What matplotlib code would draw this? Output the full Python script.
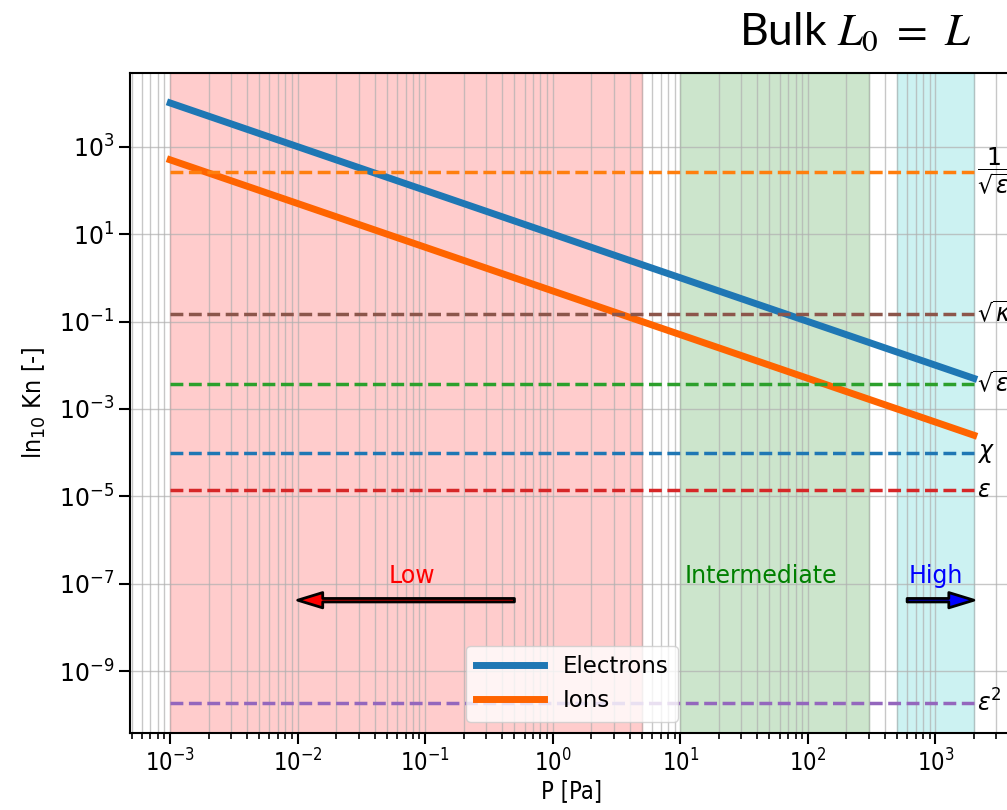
import matplotlib
matplotlib.use("Agg")
import matplotlib.pyplot as plt
from matplotlib.ticker import NullLocator, NullFormatter

# pressure grid [Pa] and Knudsen numbers
pressure = [1e-3, 1e-2, 1e-1, 1e0, 1e1, 1e2, 1e3, 2e3]
kn_electrons = [1e4, 1e3, 1e2, 1e1, 1e0, 1e-1, 1e-2, 5e-3]
kn_ions = [5e2, 5e1, 5e0, 5e-1, 5e-2, 5e-3, 5e-4, 2.5e-4]

# reference levels (horizontal dashed lines)
ref_labels = [r"$\dfrac{1}{\sqrt{\varepsilon}}$", r"$\sqrt{\kappa}$", r"$\sqrt{\varepsilon}$",
              r"$\chi$", r"$\varepsilon$", r"$\varepsilon^2$"]
ref_values = [270.0, 0.15, 3.7e-3, 1.0e-4, 1.37e-5, 1.87e-10]
ref_colors = ["C1", "C5", "C2", "C0", "C3", "C4"]

# pressure regimes
regimes = ["Low", "Intermediate", "High"]
regime_lo = [1e-3, 10, 500]
regime_hi = [5, 300, 2000]
regime_colors = ["red", "green", "c"]
regime_textc = ["red", "green", "blue"]
regime_text_x = [0.078, 43, 1000]

fig = plt.figure(figsize=(10.07, 8.1), dpi=100)
ax = fig.add_axes([130/1007, 0.0951, 884/1007, 0.8148])

for lo, hi, c in zip(regime_lo, regime_hi, regime_colors):
    ax.axvspan(lo, hi, color=c, alpha=0.2)

ax.plot(pressure, kn_electrons, color="#1f77b4", lw=5, label="Electrons")
ax.plot(pressure, kn_ions, color="#ff6400", lw=5, label="Ions")

for lab, v, c in zip(ref_labels, ref_values, ref_colors):
    ax.hlines(v, pressure[0], pressure[-1], colors=c, linestyles="--", lw=2.5)
    ax.text(2.1e3, v, lab, fontsize=17, va="center", ha="left")

for name, x, c in zip(regimes, regime_text_x, regime_textc):
    ax.text(x, 1.5e-7, name, color=c, fontsize=17, ha="center", va="center")

ax.annotate("", xy=(1e-2, 4.2e-8), xytext=(0.5, 4.2e-8),
            arrowprops=dict(facecolor="red", edgecolor="black", width=2.5,
                            headwidth=11, headlength=18, lw=2))
ax.annotate("", xy=(2e3, 4.2e-8), xytext=(600, 4.2e-8),
            arrowprops=dict(facecolor="blue", edgecolor="black", width=2.5,
                            headwidth=11, headlength=18, lw=2))

ax.set_xscale("log")
ax.set_yscale("log")
ax.yaxis.set_minor_locator(NullLocator())
ax.xaxis.set_minor_formatter(NullFormatter())
ax.grid(True, which="both", axis="x", color="#b0b0b0", lw=1, alpha=0.7)
ax.grid(True, which="major", axis="y", color="#b0b0b0", lw=1, alpha=0.7)

ax.tick_params(axis="y", labelsize=17, length=8, width=1.5)
ax.tick_params(axis="x", which="major", labelsize=17, length=8, width=1.5)
ax.tick_params(axis="x", which="minor", length=4, width=1.2)
for lbl in ax.get_xticklabels():
    lbl.set_fontstretch("condensed")
for s in ax.spines.values():
    s.set_linewidth(1.5)

ax.set_xlabel("P [Pa]", fontsize=17, fontstretch="condensed", labelpad=2)
ax.set_ylabel(r"ln$_{10}$ Kn [-]", fontsize=18, fontstretch="condensed", labelpad=8)

ax.legend(loc="lower center", fontsize=16.5, handlelength=3)

fig.text(855/1007, 1 - 32/810, r"Bulk $L_0\ =\ L$", fontsize=32, ha="center", va="center",
         family="Lato", math_fontfamily="stix")

plt.savefig("out.png", dpi=100)
